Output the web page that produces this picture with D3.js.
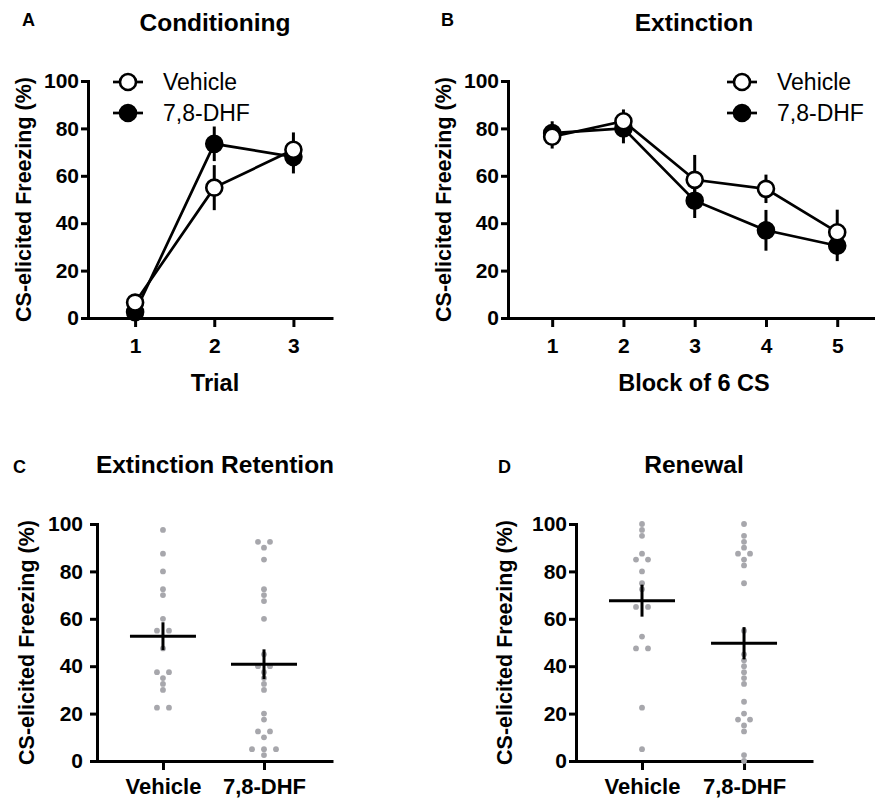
<!DOCTYPE html>
<html>
<head>
<meta charset="utf-8">
<script src="https://cdn.jsdelivr.net/npm/d3@7"></script>
<style>
body { margin: 0; background: #fff; }
svg { display: block; font-family: "Liberation Sans", Arial, Helvetica, sans-serif; }
</style>
</head>
<body>
<svg width="875" height="799"></svg>
<script>
// A - conditioning, mean and SEM per trial
var trials = [1, 2, 3]
var condVehicle = [6.5, 55, 71]
var condVehicleSem = [2, 9.5, 7.3]
var condDhf = [2.5, 73.5, 68]
var condDhfSem = [1.5, 7.3, 7]

// B - extinction, mean and SEM per block of 6 CS
var blocks = [1, 2, 3, 4, 5]
var extVehicle = [76.5, 83, 58.3, 54.5, 36.2]
var extVehicleSem = [5, 5, 10.5, 6, 9.5]
var extDhf = [78, 80, 49.5, 37, 30.5]
var extDhfSem = [5, 6.3, 7.3, 8.6, 6.5]

var groups = ["Vehicle", "7,8-DHF"]
var yTicks = [0, 20, 40, 60, 80, 100]

// C - extinction retention, one value per animal
var retentionVehicle = [97.5, 87.5, 80, 72.5, 70, 60, 55, 55, 47.5, 37.5, 37.5, 35, 32.5, 30, 22.5, 22.5]
var retentionDhf = [92.5, 92.5, 90, 85, 72.5, 70, 67.5, 60, 45, 40, 40, 37.5, 35, 32.5, 30, 20, 17.5, 12.5, 12.5, 10, 5, 5, 5, 2.5]

// D - renewal, one value per animal
var renewalVehicle = [100, 97.5, 95, 87.5, 85, 85, 80, 75, 72.5, 65, 65, 52.5, 47.5, 47.5, 22.5, 5]
var renewalDhf = [100, 95, 92.5, 90, 87.5, 87.5, 85, 82.5, 75, 55, 45, 42.5, 40, 37.5, 35, 32.5, 25, 20, 17.5, 17.5, 15, 12.5, 2.5, 0]

var svg = d3.select("svg")

function styleAxis(g, size) {
  g.select(".domain").attr("stroke", "#000").attr("stroke-width", 3)
  g.selectAll(".tick line").attr("stroke", "#000").attr("stroke-width", 3)
  g.selectAll(".tick text").attr("fill", "#000").attr("font-size", size).attr("font-weight", "bold")
}

// draws both axes, titles and the panel letter
function frame(p) {
  var g = svg.append("g")
  g.append("g")
      .attr("transform", "translate(" + p.x.range()[0] + ",0)")
      .call(d3.axisLeft(p.y).tickValues(yTicks).tickSize(7).tickSizeOuter(0).tickPadding(p.yPad))
      .call(styleAxis, 21)
  g.append("g")
      .attr("transform", "translate(0," + p.y.range()[0] + ")")
      .call(d3.axisBottom(p.x).tickValues(p.xTicks).tickFormat(p.xFormat).tickSize(9).tickSizeOuter(0).tickPadding(p.xPad))
      .call(styleAxis, p.xFont)
  g.select(".domain").attr("stroke-linecap", "square")

  var yMid = (p.y.range()[0] + p.y.range()[1]) / 2
  g.append("text")
      .attr("transform", "translate(" + p.yTitleX + "," + yMid + ") rotate(-90)")
      .attr("text-anchor", "middle").attr("dominant-baseline", "central")
      .attr("font-size", 21.5).attr("font-weight", "bold")
      .text("CS-elicited Freezing (%)")
  g.append("text")
      .attr("x", p.titleX).attr("y", p.titleY)
      .attr("text-anchor", "middle").attr("font-size", 24.5).attr("font-weight", "bold")
      .text(p.title)
  g.append("text")
      .attr("x", p.letterX).attr("y", p.letterY)
      .attr("font-size", 18).attr("font-weight", "bold")
      .text(p.letter)
  if (p.xTitle) {
    g.append("text")
        .attr("x", p.xTitleX).attr("y", 391)
        .attr("text-anchor", "middle").attr("font-size", 23.5).attr("font-weight", "bold")
        .text(p.xTitle)
  }
  return g
}

function series(g, x, y, xs, means, sems, filled) {
  var s = g.append("g")
  s.selectAll(".err").data(xs).enter().append("line")
      .attr("x1", function(d) { return x(d) }).attr("x2", function(d) { return x(d) })
      .attr("y1", function(d, i) { return y(means[i] - sems[i]) })
      .attr("y2", function(d, i) { return y(means[i] + sems[i]) })
      .attr("stroke", "#000").attr("stroke-width", 3)
  s.append("path")
      .datum(xs)
      .attr("d", d3.line().x(function(d) { return x(d) }).y(function(d, i) { return y(means[i]) }))
      .attr("fill", "none").attr("stroke", "#000").attr("stroke-width", 2.7)
  s.selectAll("circle").data(xs).enter().append("circle")
      .attr("cx", function(d) { return x(d) })
      .attr("cy", function(d, i) { return y(means[i]) })
      .attr("r", 8)
      .attr("fill", filled ? "#000" : "#fff")
      .attr("stroke", "#000").attr("stroke-width", 2.6)
}

function legend(g, cx, top) {
  groups.forEach(function(name, i) {
    var yy = top + i * 31
    g.append("line").attr("x1", cx - 15).attr("x2", cx + 15).attr("y1", yy).attr("y2", yy)
        .attr("stroke", "#000").attr("stroke-width", 2.7)
    g.append("circle").attr("cx", cx).attr("cy", yy).attr("r", 8)
        .attr("fill", i == 0 ? "#fff" : "#000").attr("stroke", "#000").attr("stroke-width", 2.6)
    g.append("text").attr("x", cx + 35).attr("y", yy)
        .attr("dominant-baseline", "central").attr("font-size", 23)
        .text(name)
  })
}

// equal values sit side by side, centred on the group
function swarm(values) {
  var counts = d3.rollup(values, function(v) { return v.length }, function(d) { return d })
  var seen = new Map()
  return values.map(function(v) {
    var n = counts.get(v), k = seen.get(v) || 0
    seen.set(v, k + 1)
    return (k - (n - 1) / 2) * 12
  })
}

function scatter(g, x, y, sets) {
  sets.forEach(function(vals, i) {
    var off = swarm(vals)
    g.append("g").selectAll("circle").data(vals).enter().append("circle")
        .attr("cx", function(d, j) { return x(i) + off[j] })
        .attr("cy", function(d) { return y(d) })
        .attr("r", 2.9)
        .attr("fill", "#a7a7ac")
    var m = d3.mean(vals), sem = d3.deviation(vals) / Math.sqrt(vals.length)
    g.append("line").attr("x1", x(i) - 33).attr("x2", x(i) + 33).attr("y1", y(m)).attr("y2", y(m))
        .attr("stroke", "#000").attr("stroke-width", 3)
    g.append("line").attr("x1", x(i)).attr("x2", x(i)).attr("y1", y(m - sem)).attr("y2", y(m + sem))
        .attr("stroke", "#000").attr("stroke-width", 3)
  })
}

var yTop = d3.scaleLinear().domain([0, 100]).range([318, 81])
var yBottom = d3.scaleLinear().domain([0, 100]).range([761, 524])

// A
var xA = d3.scaleLinear().domain([0.405, 3.5]).range([88, 333])
var gA = frame({x: xA, y: yTop, xTicks: trials, xFormat: d3.format("d"), xFont: 21, yPad: 2, xPad: 11,
  yTitleX: 24, title: "Conditioning", titleX: 215, titleY: 31, letter: "A", letterX: 22, letterY: 26,
  xTitle: "Trial", xTitleX: 215})
series(gA, xA, yTop, trials, condDhf, condDhfSem, true)
series(gA, xA, yTop, trials, condVehicle, condVehicleSem, false)
legend(gA, 128, 82)

// B
var xB = d3.scaleLinear().domain([0.38, 5.53]).range([508, 875])
var gB = frame({x: xB, y: yTop, xTicks: blocks, xFormat: d3.format("d"), xFont: 21, yPad: 2, xPad: 11,
  yTitleX: 444, title: "Extinction", titleX: 694, titleY: 31, letter: "B", letterX: 441, letterY: 26,
  xTitle: "Block of 6 CS", xTitleX: 694})
series(gB, xB, yTop, blocks, extDhf, extDhfSem, true)
series(gB, xB, yTop, blocks, extVehicle, extVehicleSem, false)
legend(gB, 742, 82)

// C
var xC = d3.scaleLinear().domain([-0.653, 1.683]).range([97, 333])
var gC = frame({x: xC, y: yBottom, xTicks: [0, 1], xFormat: function(d) { return groups[d] }, xFont: 22,
  yPad: 7, xPad: 8, yTitleX: 27, title: "Extinction Retention", titleX: 215, titleY: 473,
  letter: "C", letterX: 13, letterY: 473})
scatter(gC, xC, yBottom, [retentionVehicle, retentionDhf])

// D
var xD = d3.scaleLinear().domain([-0.647, 1.676]).range([576, 813])
var gD = frame({x: xD, y: yBottom, xTicks: [0, 1], xFormat: function(d) { return groups[d] }, xFont: 22,
  yPad: 2, xPad: 8, yTitleX: 505, title: "Renewal", titleX: 694, titleY: 473,
  letter: "D", letterX: 498, letterY: 473})
scatter(gD, xD, yBottom, [renewalVehicle, renewalDhf])
</script>
</body>
</html>
